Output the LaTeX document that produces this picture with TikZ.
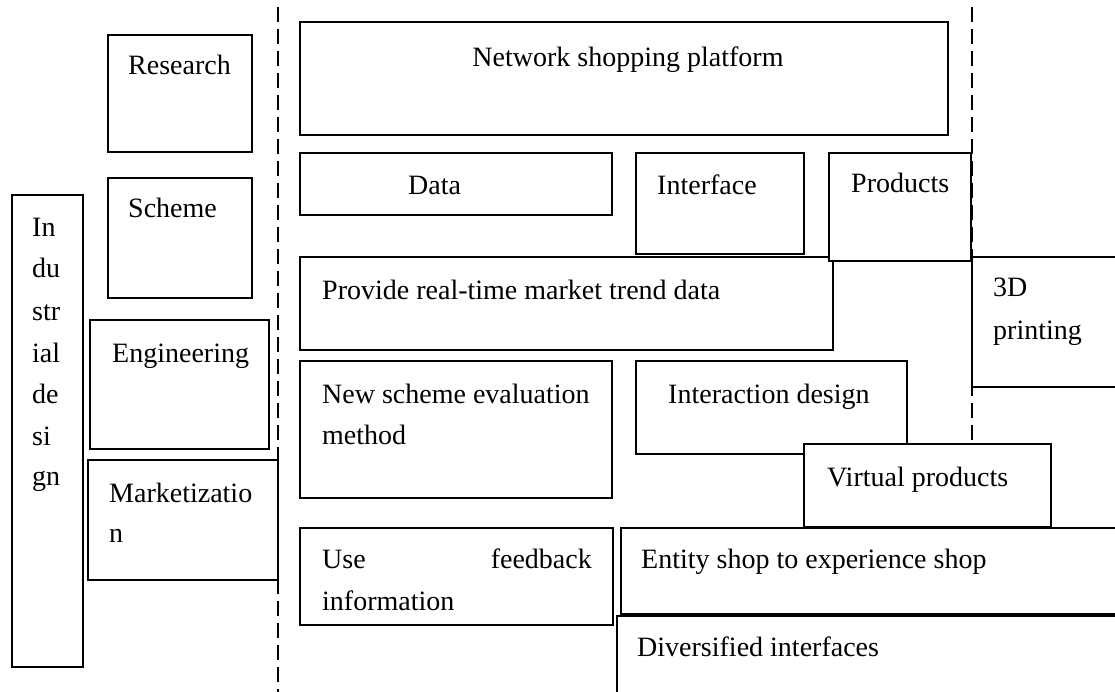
\documentclass[tikz,border=0pt]{standalone}
\usepackage{fontspec}
\setmainfont{Liberation Serif}
\usetikzlibrary{calc}
\tikzset{
  box/.style={draw, fill=white, line width=1.2pt, inner sep=0pt, outer sep=0pt, anchor=north west},
  txt/.style={anchor=base west, inner sep=0pt, font=\fontsize{28}{41.5}\selectfont},
  dashln/.style={line width=2pt, dash pattern=on 15pt off 7pt, dash phase=15pt}
}
\newcommand\mybox[5]{\node[box, minimum width={#4-#2}, minimum height={#5-#3}] (#1) at (#2,#3) {};}
\begin{document}
\begin{tikzpicture}[x=1pt,y=-1pt]
\useasboundingbox (0,0) rectangle (1115,692);
\clip (0,0) rectangle (1115,692);
\fill[white] (0,0) rectangle (1115,692);
% dashed separators
\coordinate (la) at (278,0); \coordinate (lb) at (278,692);
\coordinate (ra) at (972,0); \coordinate (rb) at (972,440);
\draw[dashln] (la) -- (lb);
\draw[dashln] (ra) -- (rb);
% central boxes
\mybox{net}{300}{22}{948}{135}
\node[txt, anchor=base] (nett) at (628,67) {Network shopping platform};
\mybox{data}{300}{153}{612}{215}
\node[txt] (datat) at (408,195) {Data};
\mybox{intf}{636}{153}{804}{254}
\node[txt] (intft) at (657,195) {Interface};
\mybox{prov}{300}{257}{833}{350}
\node[txt] (provt) at (322,300) {Provide real-time market trend data};
\mybox{prod}{829}{153}{971}{261}
\node[txt] (prodt) at (851,193) {Products};
\mybox{print}{972}{257}{1130}{387}
\node[txt] (printt1) at (993,297) {3D};
\node[txt] (printt2) at (993,339) {printing};
\mybox{news}{300}{361}{612}{498}
\node[txt] (newst1) at (322,403) {New scheme evaluation};
\node[txt] (newst2) at (322,444) {method};
\mybox{inter}{636}{361}{907}{454}
\node[txt] (intert) at (668,403) {Interaction design};
\mybox{virt}{804}{444}{1051}{527}
\node[txt] (virtt) at (827,486) {Virtual products};
\mybox{use}{300}{528}{613}{625}
\node[txt] (uset1) at (322,568) {Use};
\node[txt, anchor=base east] (uset2) at (592,568) {feedback};
\node[txt] (uset3) at (322,610) {information};
\mybox{ent}{621}{528}{1130}{614}
\node[txt] (entt) at (641,568) {Entity shop to experience shop};
\mybox{div}{617}{616}{1130}{710}
\node[txt] (divt) at (637,656) {Diversified interfaces};
% left boxes
\mybox{res}{108}{35}{252}{152}
\node[txt] (rest) at (128,75) {Research};
\mybox{sch}{108}{178}{252}{298}
\node[txt] (scht) at (128,218) {Scheme};
\mybox{eng}{90}{320}{269}{449}
\node[txt] (engt) at (112,362) {Engineering};
\mybox{mkt}{88}{460}{278}{580}
\node[txt] (mktt1) at (109,502) {Marketizatio};
\node[txt] (mktt2) at (109,542) {n};
\mybox{ind}{12}{195}{83}{667}
\node[txt] (indt1) at (32,237) {In};
\node[txt] (indt2) at (32,278) {du};
\node[txt] (indt3) at (32,320) {str};
\node[txt] (indt4) at (32,362) {ial};
\node[txt] (indt5) at (32,403) {de};
\node[txt] (indt6) at (32,445) {si};
\node[txt] (indt7) at (32,485) {gn};
\end{tikzpicture}
\end{document}
